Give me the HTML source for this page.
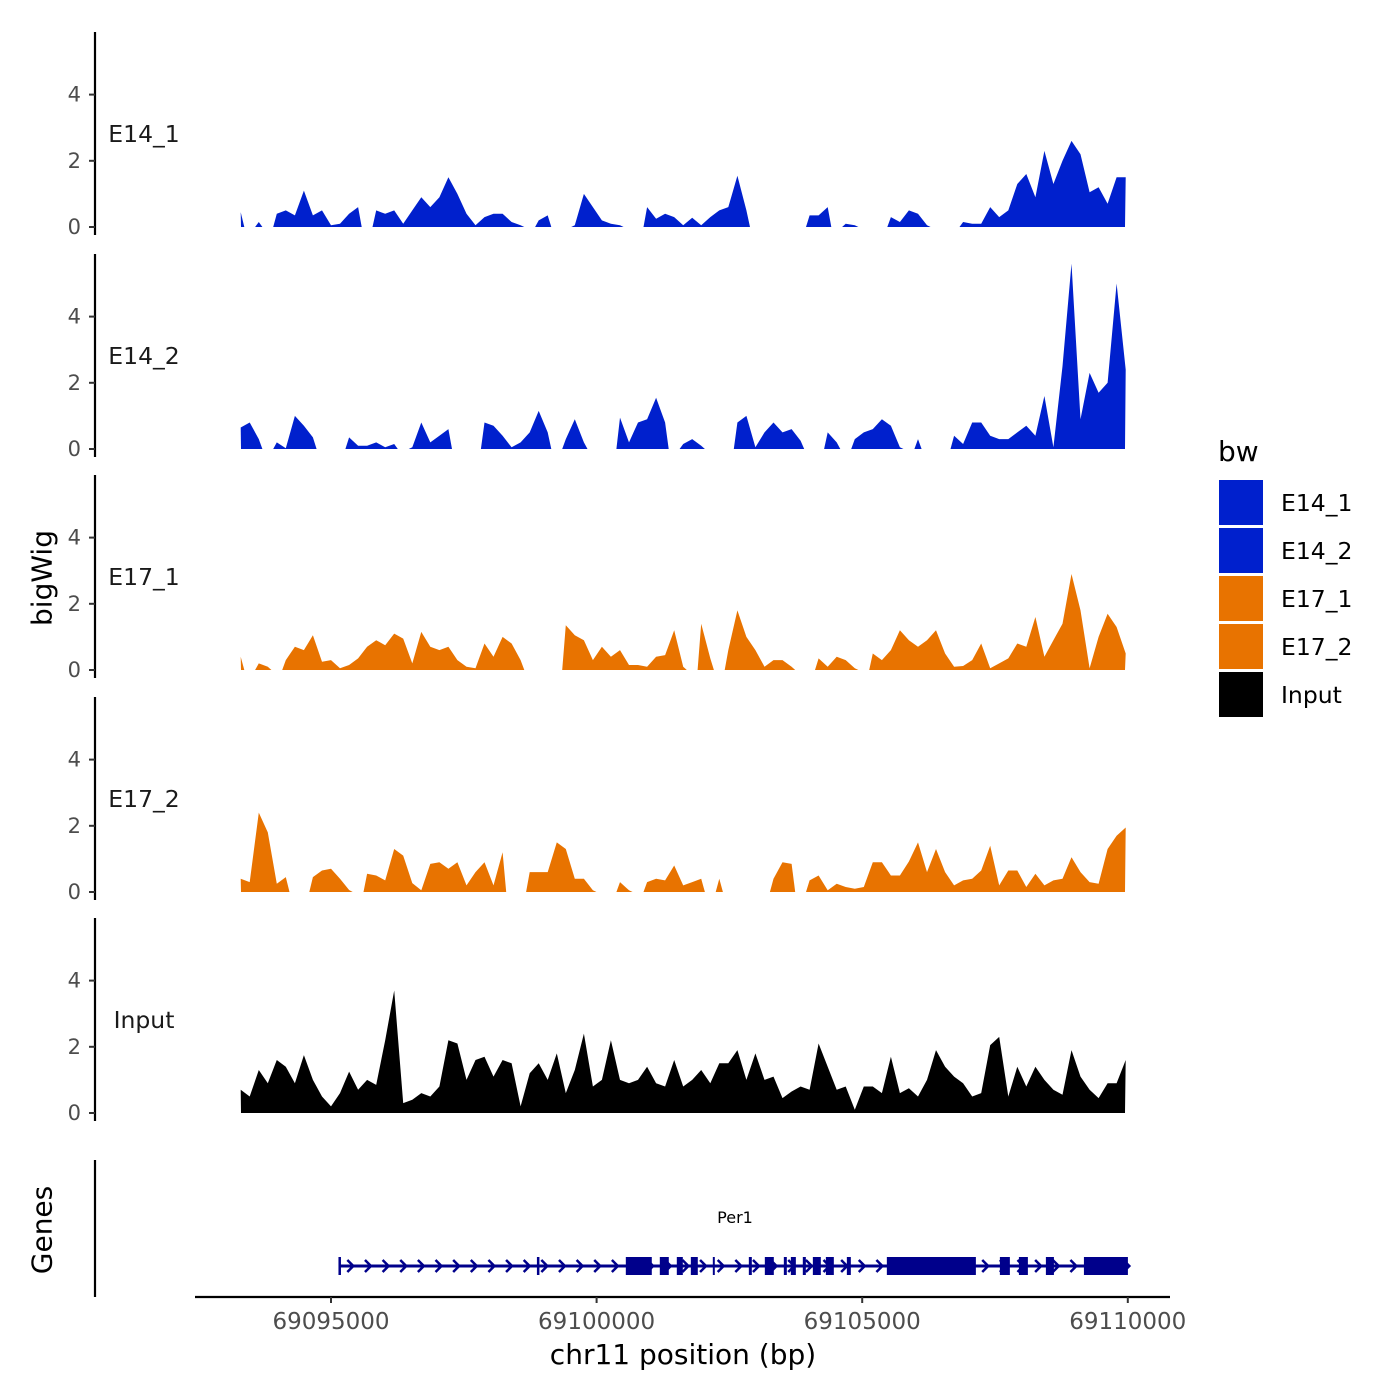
<!DOCTYPE html>
<html><head><meta charset="utf-8"><style>
html,body{margin:0;padding:0;background:#fff;}
svg{display:block;font-family:"DejaVu Sans","Liberation Sans",sans-serif;}
</style></head><body>
<svg id="chart" width="1400" height="1400" viewBox="0 0 1400 1400" xmlns="http://www.w3.org/2000/svg">
<g id="panels"></g>
<g id="genes"></g>
<g id="xaxis"></g>
<text x="42" y="578" transform="rotate(-90 42 578)" text-anchor="middle" dominant-baseline="central" font-size="28" fill="#000">bigWig</text>
<text x="42" y="1230" transform="rotate(-90 42 1230)" text-anchor="middle" dominant-baseline="central" font-size="28" fill="#000">Genes</text>
<text x="683" y="1364" text-anchor="middle" font-size="28" fill="#000">chr11 position (bp)</text>
<g id="legend"></g>
</svg>
<script>
const trackNames = ["E14_1","E14_2","E17_1","E17_2","Input"];
const trackColors = ["#0020cd","#0020cd","#e87300","#e87300","#000000"];
const gridStart = 69093300;
const gridStep = 170;
const yTicks = [0,2,4];
const xTicks = [69095000,69100000,69105000,69110000];
const xTickLabels = ["69095000","69100000","69105000","69110000"];
const legendLabels = ["E14_1","E14_2","E17_1","E17_2","Input"];
const N = null;
const e14_1 = [0.45,N,0.15,N,0.4,0.5,0.35,1.1,0.35,0.5,0.05,0.1,0.4,0.6,N,0.5,0.4,0.5,0.1,0.5,0.9,0.6,0.9,1.5,1.0,0.4,0.05,0.3,0.4,0.4,0.15,0.05,N,0.2,0.35,N,N,0.05,1.0,0.6,0.2,0.1,0.05,N,N,0.6,0.25,0.4,0.3,0.05,0.28,0.05,0.3,0.5,0.6,1.55,0.5,N,N,N,N,N,N,0.35,0.35,0.6,N,0.1,0.05,N,N,N,0.3,0.15,0.5,0.4,0.05,N,N,N,0.15,0.1,0.1,0.6,0.3,0.5,1.3,1.6,0.9,2.3,1.3,2.0,2.6,2.2,1.05,1.2,0.7,1.5,1.5];
const e14_2 = [0.65,0.8,0.3,N,0.2,0.02,1.0,0.7,0.35,N,N,N,0.35,0.1,0.1,0.2,0.05,0.15,N,0.05,0.8,0.2,0.4,0.6,N,N,N,0.8,0.7,0.4,0.05,0.2,0.5,1.15,0.5,N,0.3,0.9,0.2,N,N,N,0.95,0.2,0.8,0.9,1.55,0.8,N,0.15,0.3,0.1,N,N,N,0.8,1.0,0.05,0.5,0.8,0.5,0.6,0.25,N,N,0.5,0.2,N,0.3,0.5,0.6,0.9,0.7,0.05,N,0.3,N,N,N,0.4,0.15,0.8,0.8,0.4,0.3,0.3,0.5,0.7,0.4,1.6,0.05,2.5,5.6,0.9,2.3,1.7,2.0,5.0,2.4];
const e17_1 = [0.4,N,0.2,0.1,N,0.3,0.7,0.6,1.05,0.25,0.3,0.05,0.15,0.35,0.7,0.9,0.75,1.1,0.95,0.2,1.15,0.7,0.6,0.7,0.3,0.1,0.05,0.8,0.4,1.0,0.8,0.3,N,N,N,N,1.35,1.05,0.9,0.3,0.7,0.4,0.6,0.15,0.15,0.1,0.4,0.45,1.2,0.1,N,1.4,0.35,N,0.6,1.8,1.0,0.6,0.1,0.3,0.3,0.1,N,N,0.35,0.1,0.4,0.3,0.05,N,0.5,0.3,0.6,1.2,0.9,0.7,0.9,1.2,0.5,0.1,0.12,0.3,0.8,0.05,0.2,0.35,0.8,0.7,1.6,0.4,0.9,1.4,2.9,1.8,0.05,1.0,1.7,1.3,0.5];
const e17_2 = [0.4,0.3,2.4,1.8,0.25,0.45,N,N,0.45,0.65,0.7,0.4,0.06,N,0.55,0.5,0.35,1.3,1.1,0.27,0.05,0.85,0.9,0.7,0.9,0.2,0.6,0.9,0.2,1.2,N,N,0.6,0.6,0.6,1.5,1.3,0.4,0.4,0.05,N,N,0.3,0.05,N,0.3,0.4,0.35,0.8,0.2,0.3,0.4,N,0.4,N,N,N,N,N,0.4,0.9,0.85,N,0.35,0.5,0.05,0.25,0.15,0.1,0.15,0.9,0.9,0.5,0.5,0.92,1.5,0.6,1.3,0.6,0.2,0.35,0.4,0.65,1.4,0.2,0.65,0.65,0.15,0.55,0.2,0.35,0.4,1.05,0.6,0.3,0.25,1.3,1.7,1.95];
const input = [0.7,0.5,1.3,0.9,1.6,1.4,0.9,1.75,1.0,0.5,0.2,0.6,1.25,0.7,1.0,0.85,2.2,3.7,0.3,0.4,0.6,0.5,0.8,2.2,2.1,1.0,1.6,1.7,1.1,1.6,1.5,0.2,1.2,1.5,1.0,1.8,0.6,1.3,2.4,0.8,1.0,2.2,1.0,0.9,1.0,1.4,0.9,0.8,1.6,0.8,1.0,1.3,0.9,1.5,1.5,1.9,1.0,1.8,1.0,1.1,0.45,0.65,0.8,0.7,2.1,1.4,0.7,0.8,0.1,0.8,0.8,0.6,1.7,0.6,0.75,0.5,1.0,1.9,1.4,1.1,0.9,0.5,0.6,2.05,2.3,0.5,1.4,0.8,1.4,1.0,0.7,0.55,1.9,1.1,0.7,0.45,0.9,0.9,1.6];
const trackValues = [e14_1,e14_2,e17_1,e17_2,input];
const geneName = "Per1";
const geneStart = 69095164;
const geneEnd = 69110002;
const exonStarts = [69100550,69100738,69101190,69101510,69101774,69102188,69102866,69103167,69103525,69103657,69103882,69104071,69104316,69104711,69105464,69107592,69107950,69108458,69109174];
const exonEnds = [69100964,69101039,69101359,69101623,69101905,69102225,69102922,69103336,69103581,69103751,69103939,69104221,69104466,69104786,69107140,69107780,69108119,69108609,69110002];
const introStarts = [69095164,69098900];

const NS="http://www.w3.org/2000/svg";
function mk(tag,attrs,parent){const e=document.createElementNS(NS,tag);for(const k in attrs)e.setAttribute(k,attrs[k]);parent.appendChild(e);return e;}
function xScale(bp){return 331+(bp-69095000)*0.05312;}
const panelBase=[227,449,670,892,1113];
const unit=33.1;
function yScale(p,v){return panelBase[p]-v*unit;}

const panels=document.getElementById('panels');
trackNames.forEach((name,p)=>{
  const g=mk('g',{},panels);
  
  
  const top=panelBase[p]-195, bot=panelBase[p]+8;
  const ax=mk('line',{x1:95,x2:95,y1:top,y2:bot,stroke:'#000','stroke-width':2.2},g);
  
  
  yTicks.forEach(t=>{
    const y=yScale(p,t);
    const tk=mk('line',{x1:89,x2:95,y1:y,y2:y,stroke:'#333','stroke-width':2},g);
    
    
    const tl=mk('text',{x:81,y:y,'text-anchor':'end','dominant-baseline':'central','font-size':21,fill:'#4d4d4d'},g);
    tl.textContent=t;
    
    
  });
  const lab=mk('text',{x:144,y:panelBase[p]-93,'text-anchor':'middle','dominant-baseline':'central','font-size':23.5,fill:'#1a1a1a'},g);
  lab.textContent=name;
  
  
  const vals=trackValues[p];
  let i=0;
  while(i<vals.length){
    if(vals[i]===null){i++;continue;}
    let j=i;while(j+1<vals.length&&vals[j+1]!==null)j++;
    const b=panelBase[p];
    const x0=xScale(gridStart+(i-0.4)*gridStep), x1=xScale(gridStart+(j+0.4)*gridStep);
    let d='M'+Math.max(x0,241).toFixed(1)+','+b;
    for(let k=i;k<=j;k++){d+=' L'+xScale(gridStart+k*gridStep).toFixed(1)+','+yScale(p,vals[k]).toFixed(1);}
    d+=' L'+Math.min(x1,1125).toFixed(1)+','+b+' Z';
    const a=mk('path',{d:d,fill:trackColors[p]},g);
    
    
    i=j+1;
  }
});

const gg=document.getElementById('genes');
const gax=mk('line',{x1:95,x2:95,y1:1160,y2:1297,stroke:'#000','stroke-width':2.2},gg);


const gy=1266;
const gl=mk('line',{x1:xScale(geneStart),x2:xScale(geneEnd),y1:gy,y2:gy,stroke:'#00008b','stroke-width':3},gg);


introStarts.forEach(s=>{
  const t=mk('line',{x1:xScale(s),x2:xScale(s),y1:gy-9,y2:gy+9,stroke:'#00008b','stroke-width':2.5},gg);
  
  
});
for(let bp=geneStart+200;bp<geneEnd;bp+=332){
  const x=xScale(bp);
  const ar=mk('path',{d:`M${x-3},${gy-6} L${x+3},${gy} L${x-3},${gy+6}`,fill:'none',stroke:'#00008b','stroke-width':2.5},gg);
  
  
}
exonStarts.forEach((s,k)=>{
  const x0=xScale(s),x1=xScale(exonEnds[k]);
  const r=mk('rect',{x:x0,y:gy-9,width:x1-x0,height:18,fill:'#00008b'},gg);
  
  
});
const gn=mk('text',{x:735,y:1223,'text-anchor':'middle','font-size':16,fill:'#000'},gg);
gn.textContent=geneName;



const xa=document.getElementById('xaxis');
const xl=mk('line',{x1:195,x2:1170,y1:1297,y2:1297,stroke:'#000','stroke-width':2.2},xa);


xTicks.forEach((t,k)=>{
  const x=xScale(t);
  const tk=mk('line',{x1:x,x2:x,y1:1297,y2:1303,stroke:'#333','stroke-width':2},xa);
  
  
  const tl=mk('text',{x:x,y:1329,'text-anchor':'middle','font-size':23,fill:'#4d4d4d'},xa);
  tl.textContent=xTickLabels[k];
  
  
});

const lg=document.getElementById('legend');
const lt=mk('text',{x:1218,y:461,'font-size':28,fill:'#000'},lg);
lt.textContent='bw';


legendLabels.forEach((l,k)=>{
  const y=480+k*48;
  const e=mk('g',{},lg);
  
  
  mk('rect',{x:1219,y:y,width:44,height:45,fill:trackColors[k]},e);
  const t=mk('text',{x:1281,y:y+23,'dominant-baseline':'central','font-size':23.5,fill:'#000'},e);
  t.textContent=l;
});
</script>
</body></html>
